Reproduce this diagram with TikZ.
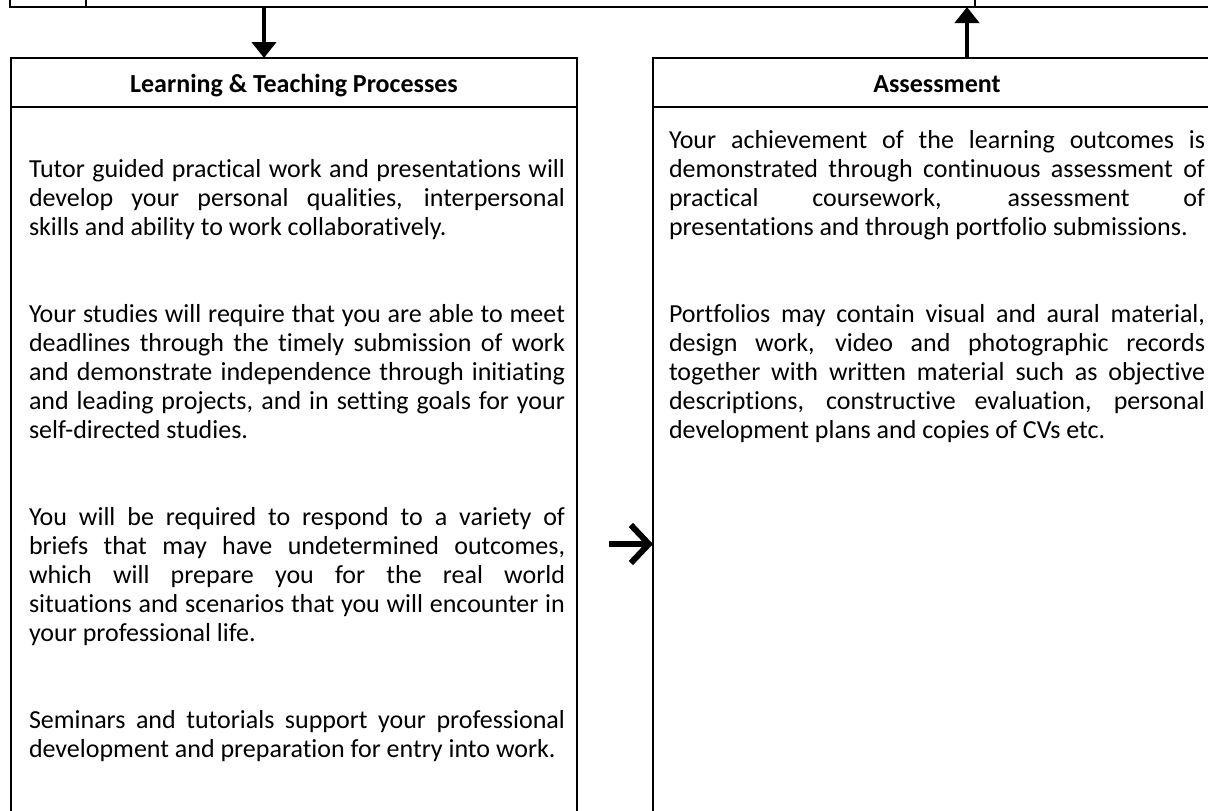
\documentclass[tikz,border=0pt]{standalone}
\usepackage{fontspec}
\setmainfont{Carlito}[Ligatures=NoCommon]
\usetikzlibrary{arrows.meta}
\tolerance=10000
\hbadness=10000
\hyphenpenalty=10000
\begin{document}
\begin{tikzpicture}[x=0.5pt,y=-0.5pt,line width=1pt]
\tikzset{
  cellbox/.style={draw=black, line width=1pt, inner sep=0pt, outer sep=0pt, anchor=north west},
  headtext/.style={anchor=base, inner sep=0pt, font=\bfseries\fontsize{13}{14.5}\selectfont},
  para/.style={anchor=base west, inner sep=0pt, outer sep=0pt, text width=268pt, align=justify, font=\fontsize{13}{14.5}\selectfont},
  downarr/.style={line width=2.4pt, -{Triangle[width=12pt,length=8pt]}},
  chevarr/.style={line width=3pt, -{Straight Barb[length=9pt,width=19pt,line width=3pt]}}
}
\useasboundingbox (0,0) rectangle (1208,810);
\clip (0,0) rectangle (1208,810);
% top row of the table (cut off)
\node[cellbox, anchor=south west, minimum width=610pt, minimum height=30pt] (toprow) at (10,7) {};
\draw (86,-60) -- (86,7);
\draw (975,-60) -- (975,7);
% left box
\node[cellbox, minimum width=283pt, minimum height=24.5pt] (lhead) at (11,58) {};
\node[cellbox, minimum width=283pt, minimum height=400pt] (lbody) at (11,107) {};
% right box
\node[cellbox, minimum width=284.5pt, minimum height=24.5pt] (rhead) at (653,58) {};
\node[cellbox, minimum width=284.5pt, minimum height=400pt] (rbody) at (653,107) {};
% headings
\node[headtext] (lheadtxt) at (294,92) {Learning \& Teaching Processes};
\node[headtext] (rheadtxt) at (937,92) {Assessment};
% left text
\node[para] (l1) at (29,177) {Tutor guided practical work and presentations will\linebreak develop your personal qualities, interpersonal\linebreak skills and ability to work collaboratively.};
\node[para] (l2) at (29,322) {Your studies will require that you are able to meet\linebreak deadlines through the timely submission of work\linebreak and demonstrate independence through initiating\linebreak and leading projects, and in setting goals for your\linebreak self-directed studies.};
\node[para] (l3) at (29,525) {You will be required to respond to a variety of\linebreak briefs that may have undetermined outcomes,\linebreak which will prepare you for the real world\linebreak situations and scenarios that you will encounter in\linebreak your professional life.};
\node[para] (l4) at (29,728) {Seminars and tutorials support your professional\linebreak development and preparation for entry into work.};
% right text
\node[para] (r1) at (669,148) {Your achievement of the learning outcomes is\linebreak demonstrated through continuous assessment of\linebreak practical coursework, assessment of\linebreak presentations and through portfolio submissions.};
\node[para] (r2) at (669,322) {Portfolios may contain visual and aural material,\linebreak design work, video and photographic records\linebreak together with written material such as objective\linebreak descriptions, constructive evaluation, personal\linebreak development plans and copies of CVs etc.};
% connectors
\coordinate (dtop) at (264,7);
\draw[downarr] (dtop) -- (dtop |- lhead.north);
\coordinate (utop) at (967,7);
\draw[downarr] (utop |- rhead.north) -- (utop);
\coordinate (rstart) at (609,544);
\draw[chevarr] (rstart) -- (rstart -| rbody.west);
\end{tikzpicture}
\end{document}
